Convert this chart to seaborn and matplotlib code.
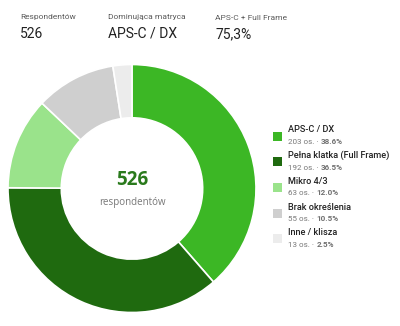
import matplotlib
matplotlib.use("Agg")
import matplotlib.pyplot as plt
import seaborn as sns

CATEGORIES = ["APS-C / DX", "Pełna klatka (Full Frame)", "Mikro 4/3",
              "Brak określenia", "Inne / klisza"]
COUNTS = [203, 192, 63, 55, 13]
PERCENTS = ["38.6%", "36.5%", "12.0%", "10.5%", "2.5%"]
COLORS = ["#3cb725", "#1f6a0f", "#9ae38b", "#cfcfcf", "#ececec"]

KPI_LABELS = ["Respondentów", "Dominująca matryca", "APS-C + Full Frame"]
KPI_VALUES = ["526", "APS-C / DX", "75,3%"]

TOTAL_LABEL = "526"
TOTAL_SUB = "respondentów"


def main() -> None:
    sns.set_theme(style="white", palette=COLORS)
    plt.rcParams["font.family"] = ["Roboto", "DejaVu Sans"]

    fig = plt.figure(figsize=(4.0, 3.26), dpi=100)
    W, H = 400, 326

    # KPI header
    for x, lab, val in zip([20, 108, 215], KPI_LABELS, KPI_VALUES):
        fig.text(x / W, 1 - 17.5 / H, lab, fontsize=6.0, color="#5a5a5a",
                 ha="left", va="center")
        fig.text(x / W, 1 - 34 / H, val, fontsize=10.0, color="#222222",
                 ha="left", va="center")

    # Donut
    ax = fig.add_axes([(132 - 124) / W, (326 - 188.5 - 124) / H, 248 / W, 248 / H])
    ax.pie(COUNTS, colors=COLORS, startangle=90, counterclock=False,
           radius=1.0,
           wedgeprops=dict(width=0.43, edgecolor="white", linewidth=1.2))
    ax.set_xlim(-1, 1)
    ax.set_ylim(-1, 1)
    ax.set_aspect("equal")
    ax.text(0, 0.07, TOTAL_LABEL, ha="center", va="center", fontsize=13.5,
            fontweight="bold", color="#2a7a1c", family=["Open Sans", "DejaVu Sans"])
    ax.text(0, -0.11, TOTAL_SUB, ha="center", va="center", fontsize=7,
            color="#777777", family=["Open Sans", "DejaVu Sans"])

    # Legend
    lax = fig.add_axes([0, 0, 1, 1], facecolor="none")
    lax.set_xlim(0, W)
    lax.set_ylim(H, 0)
    lax.axis("off")
    subs = []
    for i, (cat, cnt, col) in enumerate(zip(CATEGORIES, COUNTS, COLORS)):
        y0 = 130 + i * 25.7
        lax.add_patch(plt.Rectangle((272.5, y0 + 1.5), 9, 9, facecolor=col,
                                    edgecolor="none"))
        lax.text(287.5, y0, cat, fontsize=6.6, color="#222222", fontweight="medium",
                 ha="left", va="center")
        t = lax.text(287.5, y0 + 14, f"{cnt} os. ·", fontsize=5.8, color="#777777",
                     ha="left", va="baseline")
        subs.append((t, y0 + 14))

    # bold percentage placed right after the count text, same baseline
    fig.canvas.draw()
    r = fig.canvas.get_renderer()
    for (t, yb), pct in zip(subs, PERCENTS):
        bb = t.get_window_extent(r)
        xd = lax.transData.inverted().transform((bb.x1, bb.y0))[0]
        lax.text(xd + 3, yb, pct, fontsize=5.8, color="#707070",
                 fontweight="bold", ha="left", va="baseline")

    fig.savefig("out.png", dpi=100)


if __name__ == "__main__":
    main()
